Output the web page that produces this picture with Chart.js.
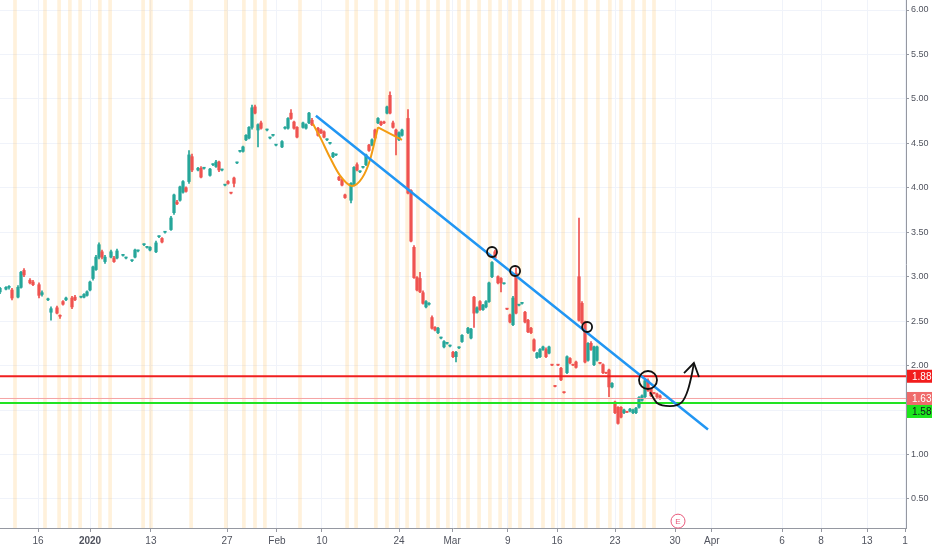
<!DOCTYPE html>
<html>
<head>
<meta charset="utf-8">
<script src="https://cdn.jsdelivr.net/npm/chart.js@4.4.1/dist/chart.umd.min.js"></script>
<style>
  html, body { margin: 0; padding: 0; background: #fff; }
  #wrap { width: 932px; height: 550px; }
</style>
</head>
<body>
<div id="wrap"><canvas id="chart"></canvas></div>
<script>
// bar number on the time axis (one unit = one bar)
const barTime = [
  0,2,3,4,6,7,8,10,11,13,
  14,16,17,19,20,21,22,24,25,27,
  28,29,30,31,32,33,34,35,37,38,
  39,41,42,44,45,46,48,49,50,52,
  53,54,55,57,58,59,60,61,62,63,
  64,66,67,68,70,71,72,73,74,75,
  76,77,78,79,80,81,82,83,84,85,
  86,87,89,90,91,92,94,95,96,97,
  98,99,101,102,103,104,106,107,108,109,
  110,111,112,113,114,115,117,118,119,120,
  121,122,123,124,125,126,127,128,129,130,
  131,132,133,134,136,137,138,139,140,141,
  142,143,144,145,146,147,148,149,150,151,
  152,153,154,156,157,158,159,160,161,162,
  163,164,165,166,167,168,169,170,171,172,
  173,174,175,176,177,178,179,180,181,182,
  183,184,185,186,187,188,189,190,191,192,
  193,194,195,196,197,198,199,200,201,202,
  203,204,205,206,207,208,209,210,211,212,
  213,214,215,216,217,218,219,220
];
const openP = [
  2.83,2.86,2.88,2.85,2.77,2.88,3.07,2.96,2.94,2.91,
  2.80,2.74,2.60,2.65,2.56,2.72,2.74,2.76,2.77,2.77,
  2.77,2.79,2.85,2.98,3.08,3.22,3.28,3.17,3.22,3.21,
  3.21,3.24,3.21,3.18,3.22,3.29,3.36,3.33,3.30,3.28,
  3.45,3.43,3.50,3.53,3.72,3.84,3.86,3.95,4.00,4.07,
  4.35,4.20,4.22,4.22,4.14,4.26,4.24,4.29,4.20,4.03,
  4.07,3.945,4.11,4.28,4.41,4.41,4.54,4.56,4.68,4.91,
  4.65,4.73,4.65,4.56,4.59,4.48,4.46,4.67,4.67,4.84,
  4.74,4.68,4.68,4.67,4.73,4.76,4.67,4.65,4.63,4.54,
  4.50,4.35,4.37,4.12,4.09,3.92,3.86,4.03,4.26,4.18,
  4.23,4.26,4.48,4.48,4.65,4.73,4.74,4.74,4.84,5.04,
  4.73,4.65,4.54,4.59,4.78,3.97,3.33,2.99,2.98,2.82,
  2.66,2.69,2.54,2.43,2.37,2.31,2.21,2.25,2.22,2.15,
  2.10,2.20,2.27,2.37,2.31,2.77,2.60,2.72,2.63,2.66,
  2.72,3.00,3.28,3.00,2.98,2.92,2.64,2.57,2.46,3.04,
  2.68,2.70,2.60,2.51,2.42,2.29,2.09,2.10,2.18,2.18,
  2.14,2.01,1.77,2.01,1.97,1.70,1.92,2.08,2.01,2.04,
  3.00,2.70,2.49,2.06,2.25,2.01,2.06,2.03,2.01,1.92,
  1.95,1.76,1.59,1.53,1.53,1.47,1.48,1.49,1.47,1.47,
  1.53,1.61,1.65,1.83,1.74,1.69,1.68,1.66
];
const highP = [
  2.88,2.89,2.90,2.87,2.90,3.06,3.09,2.98,2.96,2.93,
  2.84,2.76,2.66,2.67,2.57,2.73,2.77,2.78,2.79,2.78,
  2.81,2.84,2.95,3.12,3.24,3.38,3.30,3.24,3.30,3.23,
  3.31,3.25,3.22,3.19,3.31,3.30,3.37,3.34,3.34,3.40,
  3.46,3.44,3.51,3.68,3.93,3.86,4.02,4.08,4.01,4.42,
  4.38,4.23,4.24,4.23,4.22,4.27,4.31,4.30,4.21,4.04,
  4.08,3.95,4.12,4.29,4.42,4.47,4.60,4.69,4.93,4.93,
  4.72,4.75,4.66,4.57,4.60,4.49,4.53,4.69,4.79,4.88,
  4.75,4.69,4.74,4.72,4.85,4.78,4.68,4.66,4.64,4.55,
  4.51,4.40,4.38,4.13,4.10,3.93,4.06,4.24,4.28,4.19,
  4.24,4.38,4.49,4.55,4.66,4.79,4.75,4.75,4.92,5.08,
  4.75,4.66,4.63,4.66,4.88,3.98,3.35,3.00,3.05,2.84,
  2.73,2.71,2.56,2.44,2.43,2.32,2.28,2.26,2.23,2.16,
  2.16,2.21,2.35,2.43,2.42,2.78,2.66,2.73,2.69,2.73,
  2.94,3.17,3.30,3.01,2.99,2.93,2.645,2.58,2.78,3.10,
  2.69,2.71,2.61,2.52,2.43,2.30,2.15,2.19,2.22,2.20,
  2.22,2.015,1.775,2.015,1.98,1.705,2.11,2.09,2.015,2.05,
  3.66,2.72,2.50,2.26,2.27,2.22,2.22,2.035,2.02,1.925,
  1.96,1.81,1.60,1.54,1.54,1.51,1.485,1.52,1.51,1.53,
  1.65,1.67,1.84,1.85,1.75,1.70,1.69,1.67
];
const lowP = [
  2.81,2.85,2.86,2.74,2.76,2.87,3.00,2.92,2.90,2.76,
  2.78,2.73,2.51,2.58,2.53,2.68,2.73,2.64,2.73,2.76,
  2.76,2.78,2.84,2.96,3.07,3.20,3.20,3.15,3.21,3.16,
  3.20,3.23,3.20,3.17,3.21,3.28,3.35,3.32,3.29,3.27,
  3.44,3.38,3.49,3.52,3.70,3.81,3.85,3.94,3.95,4.05,
  4.18,4.19,4.11,4.21,4.13,4.25,4.23,4.18,4.19,4.02,
  4.04,3.93,4.01,4.27,4.40,4.40,4.53,4.55,4.66,4.83,
  4.46,4.66,4.64,4.55,4.58,4.47,4.45,4.66,4.66,4.77,
  4.66,4.56,4.67,4.66,4.72,4.70,4.58,4.61,4.56,4.53,
  4.49,4.34,4.36,4.08,4.02,3.88,3.83,4.02,4.19,4.17,
  4.22,4.25,4.41,4.47,4.55,4.72,4.70,4.72,4.83,4.83,
  4.67,4.37,4.53,4.58,3.93,3.39,2.98,2.84,2.82,2.69,
  2.65,2.68,2.41,2.39,2.36,2.30,2.20,2.24,2.21,2.09,
  2.04,2.19,2.26,2.36,2.30,2.43,2.59,2.62,2.62,2.65,
  2.71,2.99,3.20,2.92,2.83,2.915,2.63,2.48,2.45,2.58,
  2.67,2.69,2.48,2.37,2.36,2.16,2.08,2.09,2.17,2.09,
  2.13,2.00,1.76,2.00,1.83,1.69,1.91,2.02,2.00,1.97,
  2.50,2.47,2.03,2.05,2.17,2.00,2.05,2.02,1.91,1.91,
  1.65,1.75,1.46,1.34,1.41,1.46,1.47,1.48,1.46,1.46,
  1.52,1.60,1.64,1.71,1.65,1.68,1.64,1.62
];
const closeP = [
  2.87,2.88,2.89,2.76,2.88,3.05,3.02,2.93,2.91,2.79,
  2.82,2.75,2.64,2.59,2.555,2.69,2.76,2.66,2.74,2.775,
  2.80,2.83,2.94,3.11,3.22,3.36,3.22,3.22,3.28,3.17,
  3.29,3.245,3.215,3.185,3.30,3.295,3.365,3.335,3.33,3.38,
  3.455,3.39,3.505,3.66,3.92,3.82,4.01,4.07,3.96,4.37,
  4.20,4.22,4.12,4.225,4.21,4.265,4.29,4.20,4.205,4.035,
  4.05,3.94,4.05,4.285,4.415,4.46,4.59,4.68,4.90,4.84,
  4.71,4.67,4.655,4.565,4.595,4.485,4.52,4.68,4.78,4.78,
  4.67,4.57,4.73,4.71,4.84,4.71,4.59,4.62,4.57,4.545,
  4.505,4.39,4.375,4.09,4.03,3.89,4.05,4.23,4.20,4.185,
  4.235,4.37,4.42,4.54,4.56,4.78,4.71,4.73,4.91,4.84,
  4.68,4.59,4.62,4.65,3.94,3.40,2.99,2.85,2.83,2.70,
  2.72,2.70,2.42,2.40,2.42,2.315,2.27,2.255,2.225,2.10,
  2.15,2.205,2.34,2.42,2.41,2.59,2.65,2.63,2.68,2.72,
  2.93,3.16,3.21,2.93,2.93,2.925,2.635,2.49,2.76,2.59,
  2.685,2.705,2.49,2.38,2.37,2.17,2.14,2.18,2.21,2.10,
  2.21,2.005,1.765,2.005,1.84,1.695,2.10,2.03,2.005,1.98,
  2.51,2.48,2.04,2.25,2.18,2.21,2.21,2.025,1.92,1.915,
  1.76,1.80,1.47,1.35,1.42,1.50,1.475,1.51,1.50,1.52,
  1.64,1.66,1.83,1.72,1.66,1.685,1.65,1.63
];

// session highlight columns (bar numbers)
const sessionBars = [5,15,19.7,23.3,26.7,33.3,36.7,47.7,50.3,63.7,75.3,81.3,85,88.3,100,
  115.7,118.7,125.3,129,132.3,135.7,139.3,142.7,146,149.3,153,156,159.7,163.3,166.7,
  170,173.3,177.3,181,184.3,187.7,191.3,195.3,199.3,203.3,207,211,214.7,218];

// axis ticks
const xTickPos = [12.7,30,50.3,75.7,92.3,107.3,133,150.7,169.3,185.7,205,225,237.3,260.7,273.7,289,301.7];
const xTickLabels = ['16','2020','13','27','Feb','10','24','Mar','9','16','23','30','Apr','6','8','13','1'];
const yTicks = [0.5,1,1.5,2,2.5,3,3.5,4,4.5,5,5.5,6];
const xRange = [0, 302];
const yRange = [0.173, 6.1125];

// drawn levels and sketches (bar number, price)
const resistance = 1.88;
const lastPrice = 1.63;
const support = 1.58;
const trendLine = [[105.3,4.81],[236,1.28]];
const cupCurve = [[104.3,4.72],[106.7,4.57],[110,4.34],[113.3,4.14],[117.3,4.02],[120.7,4.11],[123.3,4.31],[126,4.68]];
const handleLine = [[126,4.68],[134,4.54]];
const touchMarks = [[164,3.278],[171.7,3.064],[195.7,2.434],[216,1.838]];
const touchSizes = [5,5,5,9];
const arrowPath = [[216.7,1.70],[219,1.58],[223.3,1.545],[227.3,1.59],[229.3,1.725],[230.7,1.916],[231.3,2.029]];
const arrowHead = [[228,1.916],[231.3,2.029],[233,1.871]];
const earningsAt = [226, 0.25];

const UP = '#26a69a', DOWN = '#ef5350';
const FONT = "'Liberation Sans', Arial, sans-serif";
const pts = arr => arr.map(p => ({x: p[0], y: p[1]}));
const hline = v => [{x: xRange[0], y: v}, {x: xRange[1], y: v}];
const candleColor = barTime.map((t, i) => closeP[i] >= openP[i] ? UP : DOWN);

const priceTags = [
  {v: resistance, bg: '#f21c1c', fg: '#ffffff'},
  {v: lastPrice, bg: '#ef6b6b', fg: '#ffffff'},
  {v: support, bg: '#1de61d', fg: '#131722'}
];

const overlay = {
  id: 'overlay',
  afterDraw(chart) {
    const {ctx, scales: {x, y}} = chart;
    ctx.save();
    // price tags on the right axis
    let lastBottom = -1e9;
    ctx.font = '10px ' + FONT;
    ctx.textBaseline = 'middle';
    ctx.textAlign = 'left';
    priceTags.forEach(tag => {
      let cy = y.getPixelForValue(tag.v);
      const h = 13;
      if (cy - h / 2 < lastBottom) cy = lastBottom + h / 2;
      ctx.fillStyle = tag.bg;
      ctx.fillRect(x.right + 1, cy - h / 2, chart.width - x.right - 1, h);
      ctx.fillStyle = tag.fg;
      ctx.fillText(tag.v.toFixed(2), x.right + 6, cy + 0.5);
      lastBottom = cy + h / 2;
    });
    // earnings marker
    const ex = x.getPixelForValue(earningsAt[0]);
    const ey = y.getPixelForValue(earningsAt[1]);
    ctx.beginPath();
    ctx.arc(ex, ey, 7, 0, Math.PI * 2);
    ctx.fillStyle = '#ffffff';
    ctx.fill();
    ctx.strokeStyle = '#e8587a';
    ctx.lineWidth = 1;
    ctx.stroke();
    ctx.fillStyle = '#e8587a';
    ctx.font = '8px ' + FONT;
    ctx.textAlign = 'center';
    ctx.fillText('E', ex, ey + 0.5);
    ctx.restore();
  }
};

new Chart(document.getElementById('chart'), {
  type: 'bar',
  data: {
    datasets: [
      {
        label: 'sessions',
        data: sessionBars.map(t => ({x: t, y: yRange})),
        backgroundColor: 'rgba(255, 190, 90, 0.22)',
        barThickness: 3,
        grouped: false,
        order: 20
      },
      {
        label: 'wicks',
        data: barTime.map((t, i) => ({x: t, y: [lowP[i], highP[i]]})),
        backgroundColor: candleColor,
        barThickness: 1,
        grouped: false,
        order: 6
      },
      {
        label: 'bodies',
        data: barTime.map((t, i) => ({x: t, y: [openP[i], closeP[i]]})),
        backgroundColor: candleColor,
        barThickness: 2.6,
        minBarLength: 1,
        grouped: false,
        order: 5
      },
      {
        type: 'line', label: 'last', data: hline(lastPrice),
        borderColor: '#f5a3a3', borderWidth: 1, pointRadius: 0, order: 4
      },
      {
        type: 'line', label: 'resistance', data: hline(resistance),
        borderColor: '#f01f1f', borderWidth: 2, pointRadius: 0, order: 3
      },
      {
        type: 'line', label: 'support', data: hline(support),
        borderColor: '#22e322', borderWidth: 2, pointRadius: 0, order: 3
      },
      {
        type: 'line', label: 'trend', data: pts(trendLine),
        borderColor: '#2196f3', borderWidth: 2.5, pointRadius: 0, order: 2
      },
      {
        type: 'line', label: 'cup', data: pts(cupCurve),
        borderColor: '#f39c12', borderWidth: 2, pointRadius: 0,
        cubicInterpolationMode: 'monotone', order: 2
      },
      {
        type: 'line', label: 'handle', data: pts(handleLine),
        borderColor: '#f39c12', borderWidth: 2, pointRadius: 0, order: 2
      },
      {
        type: 'line', label: 'touches', data: pts(touchMarks), showLine: false,
        pointRadius: touchSizes, pointBorderWidth: 1.8,
        pointBorderColor: '#111111', pointBackgroundColor: 'rgba(0,0,0,0)', order: 1
      },
      {
        type: 'line', label: 'arrow', data: pts(arrowPath),
        borderColor: '#111111', borderWidth: 1.8, pointRadius: 0,
        cubicInterpolationMode: 'monotone', order: 1
      },
      {
        type: 'line', label: 'arrowHead', data: pts(arrowHead),
        borderColor: '#111111', borderWidth: 1.8, pointRadius: 0, order: 1
      }
    ]
  },
  options: {
    responsive: true,
    maintainAspectRatio: false,
    animation: false,
    events: [],
    layout: { padding: 0, autoPadding: false },
    plugins: { legend: { display: false }, tooltip: { enabled: false } },
    scales: {
      x: {
        type: 'linear',
        min: xRange[0], max: xRange[1],
        offset: false,
        afterBuildTicks: s => { s.ticks = xTickPos.map(v => ({value: v})); },
        afterFit: s => { s.height = 22; s.paddingLeft = 0; s.paddingRight = 0; },
        grid: { color: '#f0f3fa', offset: false, tickLength: 4, tickColor: '#9598a1' },
        border: { color: '#9598a1', width: 1 },
        ticks: {
          autoSkip: false, maxRotation: 0, minRotation: 0, padding: 3,
          color: '#50535e',
          font: c => ({ family: FONT, size: 10, weight: xTickLabels[c.index] === '2020' ? 'bold' : 'normal' }),
          callback: (v, i) => xTickLabels[i]
        }
      },
      y: {
        type: 'linear',
        position: 'right',
        min: yRange[0], max: yRange[1],
        afterBuildTicks: s => { s.ticks = yTicks.map(v => ({value: v})); },
        afterFit: s => { s.width = 26; s.paddingTop = 0; s.paddingBottom = 0; },
        grid: { color: '#f0f3fa', tickLength: 3, tickColor: '#9598a1' },
        border: { color: '#9598a1', width: 1 },
        ticks: {
          padding: 2, color: '#50535e',
          font: { family: FONT, size: 9 },
          callback: v => v.toFixed(2)
        }
      }
    }
  },
  plugins: [overlay]
});
</script>
</body>
</html>
